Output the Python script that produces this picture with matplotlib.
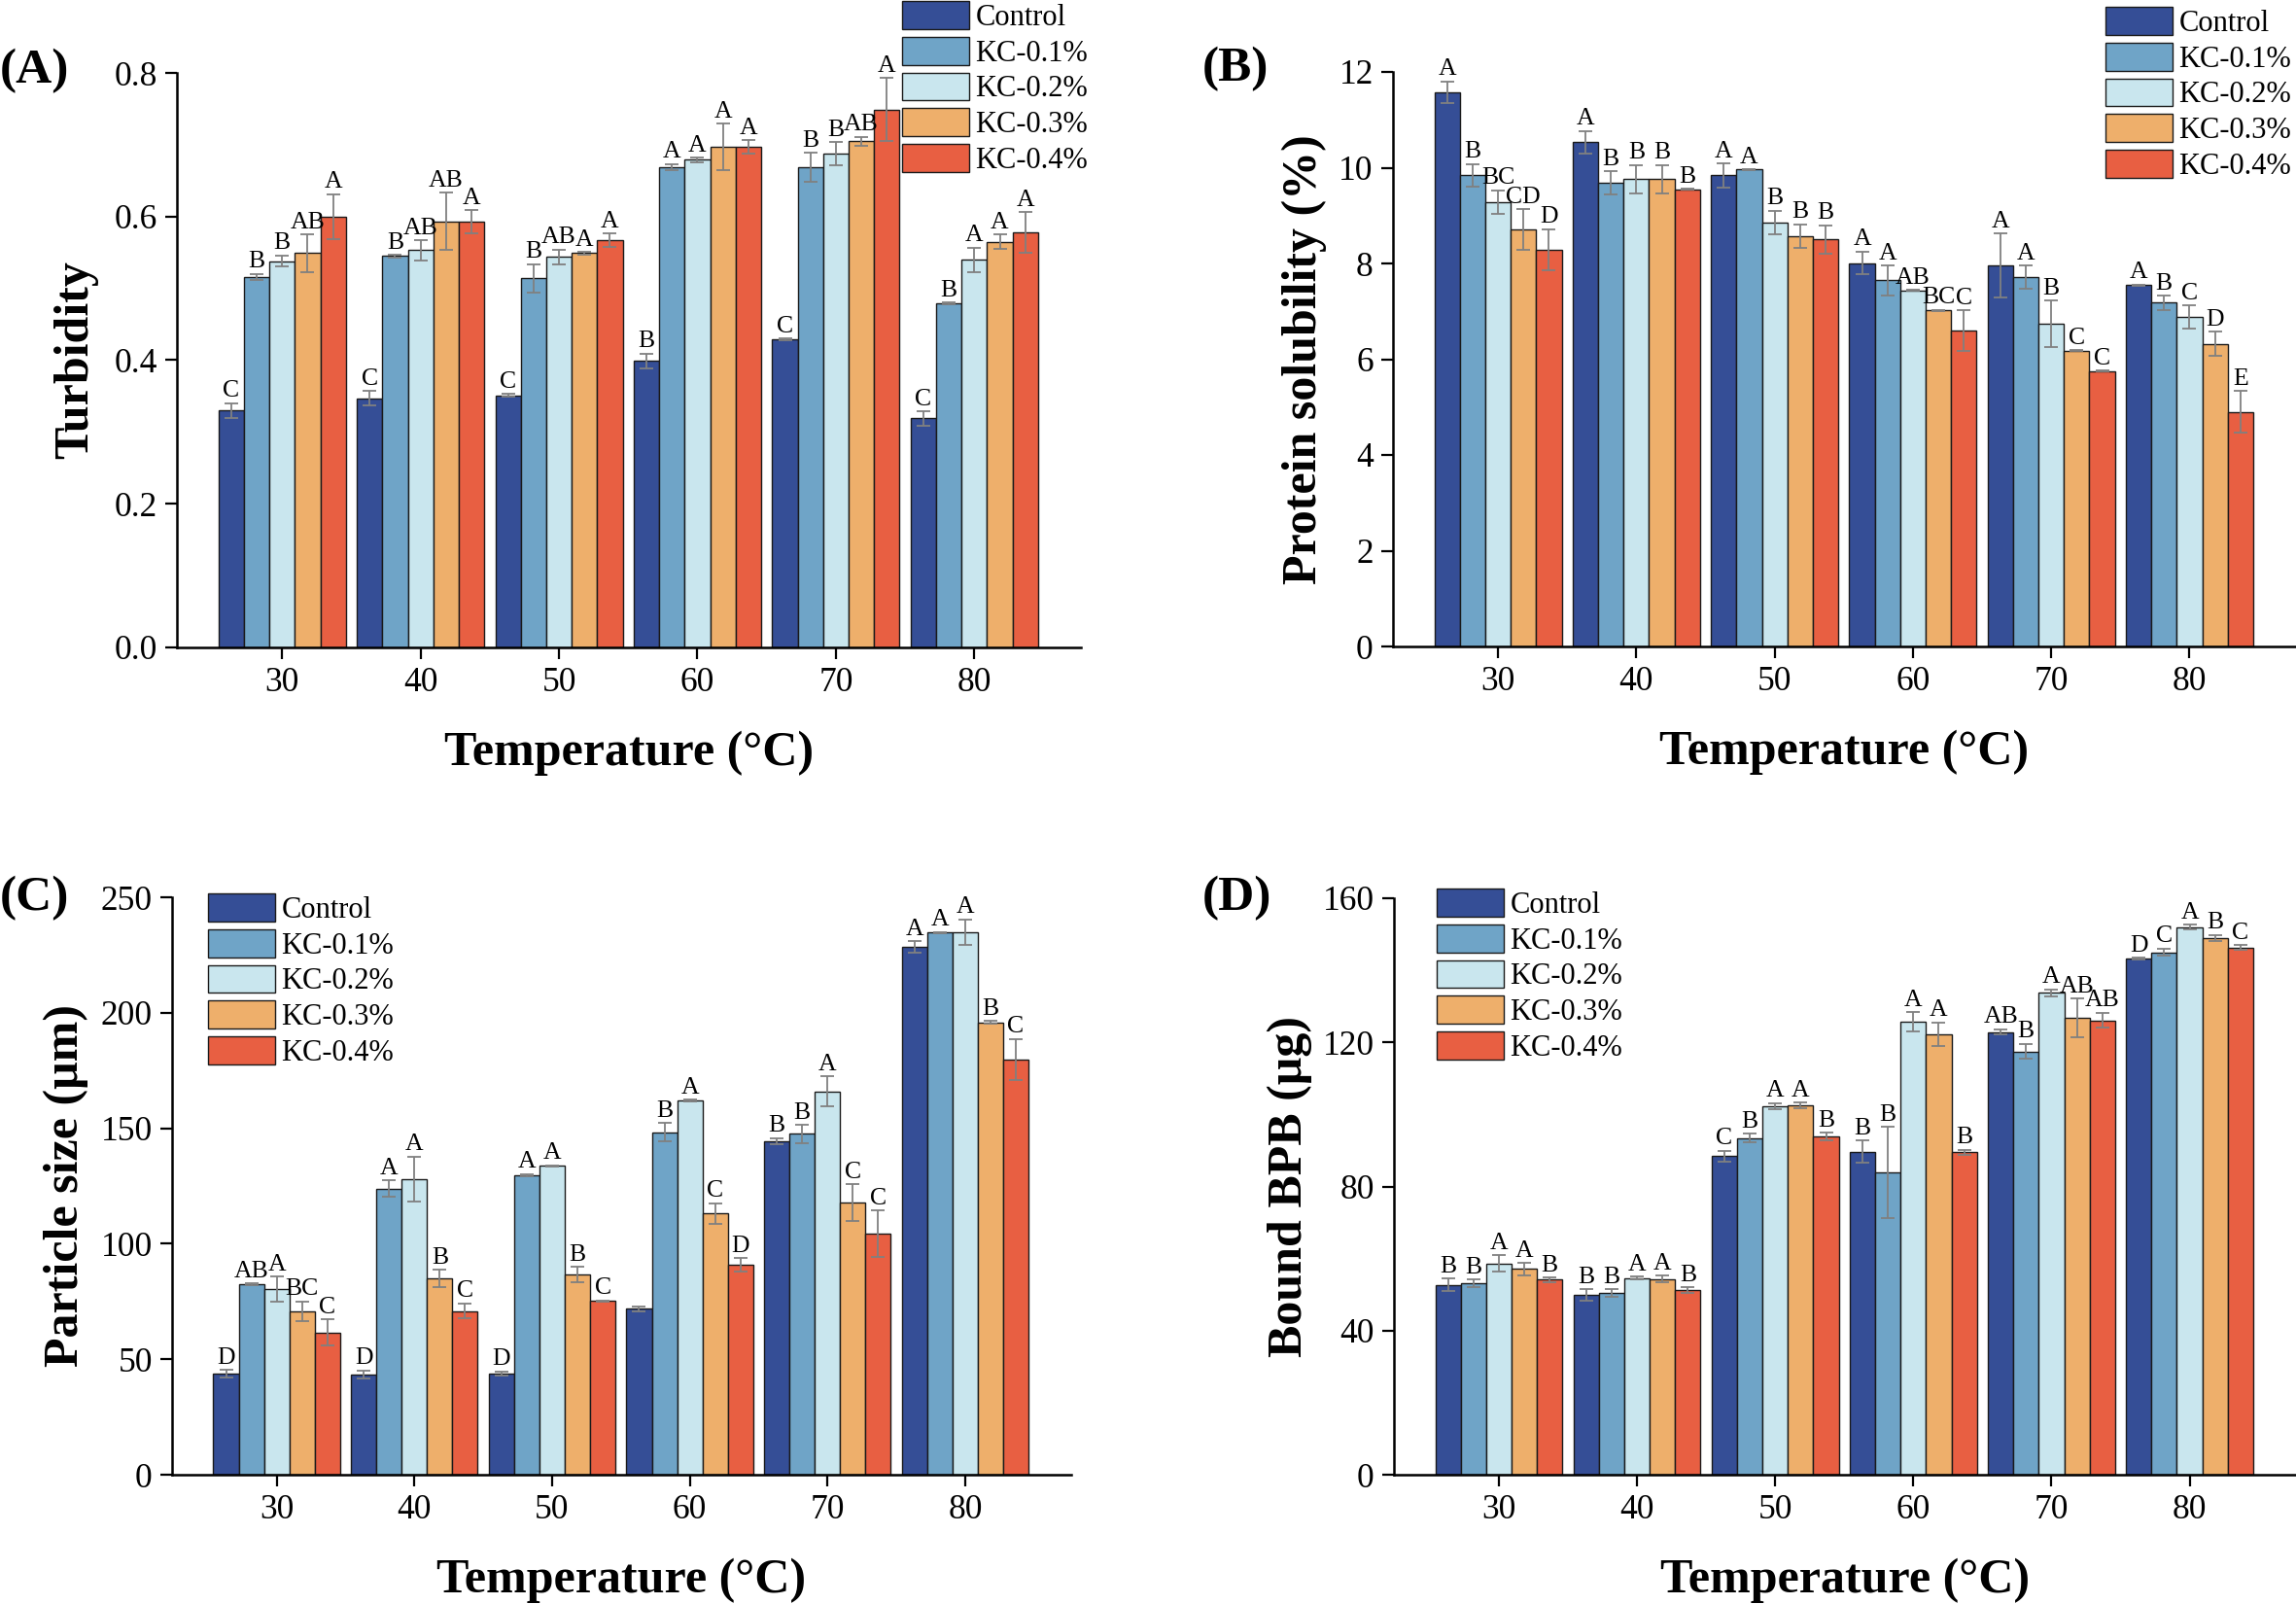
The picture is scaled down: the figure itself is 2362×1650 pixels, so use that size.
import matplotlib
matplotlib.use('Agg')
import matplotlib.pyplot as plt
import numpy as np

plt.rcParams['font.family'] = ['Liberation Serif', 'DejaVu Serif']

# ---------------- data ----------------
temps = ['30', '40', '50', '60', '70', '80']
series = ['Control', 'KC-0.1%', 'KC-0.2%', 'KC-0.3%', 'KC-0.4%']
colors = ['#354E96', '#6FA4C7', '#C9E6EE', '#EEAF6B', '#E85F42']

# (A) Turbidity: rows = temperature, cols = series
turb_mean = [[0.330, 0.516, 0.538, 0.549, 0.600],
             [0.347, 0.545, 0.553, 0.593, 0.593],
             [0.351, 0.514, 0.544, 0.549, 0.567],
             [0.399, 0.669, 0.679, 0.697, 0.697],
             [0.429, 0.669, 0.688, 0.705, 0.749],
             [0.319, 0.479, 0.540, 0.565, 0.578]]
turb_err = [[0.010, 0.004, 0.008, 0.026, 0.031],
            [0.010, 0.002, 0.014, 0.040, 0.016],
            [0.002, 0.020, 0.010, 0.002, 0.009],
            [0.010, 0.004, 0.003, 0.032, 0.009],
            [0.001, 0.020, 0.016, 0.006, 0.044],
            [0.010, 0.001, 0.017, 0.010, 0.028]]
turb_sig = [['C', 'B', 'B', 'AB', 'A'],
            ['C', 'B', 'AB', 'AB', 'A'],
            ['C', 'B', 'AB', 'A', 'A'],
            ['B', 'A', 'A', 'A', 'A'],
            ['C', 'B', 'B', 'AB', 'A'],
            ['C', 'B', 'A', 'A', 'A']]

# (B) Protein solubility (%)
sol_mean = [[11.58, 9.84, 9.28, 8.71, 8.29],
            [10.53, 9.69, 9.76, 9.76, 9.55],
            [9.84, 9.96, 8.85, 8.57, 8.50],
            [8.01, 7.65, 7.44, 7.02, 6.60],
            [7.95, 7.72, 6.74, 6.18, 5.75],
            [7.55, 7.18, 6.88, 6.32, 4.90]]
sol_err = [[0.22, 0.24, 0.25, 0.42, 0.43],
           [0.24, 0.24, 0.30, 0.30, 0.01],
           [0.25, 0.01, 0.25, 0.25, 0.30],
           [0.24, 0.31, 0.01, 0.01, 0.42],
           [0.67, 0.24, 0.49, 0.01, 0.01],
           [0.01, 0.15, 0.24, 0.25, 0.43]]
sol_sig = [['A', 'B', 'BC', 'CD', 'D'],
           ['A', 'B', 'B', 'B', 'B'],
           ['A', 'A', 'B', 'B', 'B'],
           ['A', 'A', 'AB', 'BC', 'C'],
           ['A', 'A', 'B', 'C', 'C'],
           ['A', 'B', 'C', 'D', 'E']]

# (C) Particle size (um)
size_mean = [[43.8, 82.5, 80.4, 70.7, 61.6],
             [43.3, 123.9, 128.0, 84.9, 70.9],
             [43.8, 129.7, 133.8, 86.6, 75.2],
             [71.8, 148.3, 162.1, 113.1, 90.9],
             [144.4, 147.6, 166.0, 117.9, 104.3],
             [228.4, 234.7, 234.9, 195.9, 179.7]]
size_err = [[1.7, 0.3, 5.3, 4.3, 5.7],
            [1.8, 3.6, 9.7, 3.7, 3.3],
            [1.0, 0.5, 0.2, 3.4, 0.3],
            [1.1, 4.0, 0.3, 4.4, 2.8],
            [1.4, 3.9, 6.6, 7.9, 10.0],
            [2.5, 0.3, 5.5, 0.5, 9.0]]
size_sig = [['D', 'AB', 'A', 'BC', 'C'],
            ['D', 'A', 'A', 'B', 'C'],
            ['D', 'A', 'A', 'B', 'C'],
            ['', 'B', 'A', 'C', 'D'],
            ['B', 'B', 'A', 'C', 'C'],
            ['A', 'A', 'A', 'B', 'C']]

# (D) Bound BPB (ug)
bpb_mean = [[52.7, 53.1, 58.6, 57.1, 54.1],
            [49.9, 50.5, 54.6, 54.3, 51.2],
            [88.4, 93.4, 102.3, 102.5, 93.9],
            [89.7, 83.9, 125.7, 122.2, 89.5],
            [122.9, 117.5, 133.7, 126.8, 126.1],
            [143.2, 145.0, 152.0, 149.0, 146.3]]
bpb_err = [[1.8, 1.0, 2.3, 1.7, 0.7],
           [1.5, 1.0, 0.4, 1.0, 0.8],
           [1.5, 1.2, 0.8, 0.8, 1.1],
           [3.0, 12.7, 2.6, 3.3, 0.7],
           [0.8, 2.1, 1.0, 5.4, 2.1],
           [0.3, 1.0, 0.6, 0.8, 0.7]]
bpb_sig = [['B', 'B', 'A', 'A', 'B'],
           ['B', 'B', 'A', 'A', 'B'],
           ['C', 'B', 'A', 'A', 'B'],
           ['B', 'B', 'A', 'A', 'B'],
           ['AB', 'B', 'A', 'AB', 'AB'],
           ['D', 'C', 'A', 'B', 'C']]

# ---------------- layout ----------------
W, H = 2362, 1650
fig = plt.figure(figsize=(W / 100, H / 100), dpi=100)


def rect(l, r, t, b):
    return [l / W, 1 - b / H, (r - l) / W, (b - t) / H]


panels = [
    dict(rect=rect(182, 1112, 75, 666), mean=turb_mean, err=turb_err, sig=turb_sig,
         ylim=(0, 0.8), yticks=np.arange(0, 0.81, 0.2), fmt='{:.1f}', ylabel='Turbidity',
         ylx=-104, leg=(928, 1), letter='(A)', lpos=(0, 73)),
    dict(rect=rect(1433, 2362, 74, 665), mean=sol_mean, err=sol_err, sig=sol_sig,
         ylim=(0, 12), yticks=np.arange(0, 12.1, 2), fmt='{:.0f}', ylabel='Protein solubility (%)',
         ylx=-91, leg=(2166, 7), letter='(B)', lpos=(1237, 71)),
    dict(rect=rect(177, 1102, 923, 1517), mean=size_mean, err=size_err, sig=size_sig,
         ylim=(0, 250), yticks=np.arange(0, 251, 50), fmt='{:.0f}', ylabel='Particle size (\u03bcm)',
         ylx=-109, leg=(214, 919), letter='(C)', lpos=(0, 924)),
    dict(rect=rect(1434, 2362, 924, 1517), mean=bpb_mean, err=bpb_err, sig=bpb_sig,
         ylim=(0, 160), yticks=np.arange(0, 161, 40), fmt='{:.0f}', ylabel='Bound BPB (\u03bcg)',
         ylx=-107, leg=(1478, 914), letter='(D)', lpos=(1237, 924)),
]

w = 0.184
xg = np.arange(len(temps))

for p in panels:
    ax = fig.add_axes(p['rect'])
    mean = np.array(p['mean'])
    err = np.array(p['err'])
    handles = []
    for j, s in enumerate(series):
        x = xg + (j - 2) * w
        b = ax.bar(x, mean[:, j], w, color=colors[j], edgecolor='#1a1a1a',
                   linewidth=1.0, label=s, zorder=2)
        handles.append(b)
        ax.errorbar(x, mean[:, j], yerr=err[:, j], fmt='none', ecolor='#808080',
                    elinewidth=1.3, capsize=5, capthick=1.3, zorder=3)
        for i in range(len(temps)):
            lab = p['sig'][i][j]
            if lab:
                ax.annotate(lab, (x[i], mean[i, j] + err[i, j]), xytext=(0, 1),
                            textcoords='offset points', ha='center', va='bottom',
                            fontsize=18.5, annotation_clip=False, zorder=4)
    ax.set_xlim(-0.76, 5.77)
    ax.set_ylim(*p['ylim'])
    ax.set_xticks(xg)
    ax.set_xticklabels(temps)
    ax.set_yticks(p['yticks'])
    ax.set_yticklabels([p['fmt'].format(v) for v in p['yticks']])
    for sp in ['top', 'right']:
        ax.spines[sp].set_visible(False)
    for sp in ['left', 'bottom']:
        ax.spines[sp].set_linewidth(1.8)
    ax.tick_params(axis='both', direction='out', length=8.5, width=1.6,
                   labelsize=25.5, pad=6)
    ax_w = p['rect'][2] * W
    ax_h = p['rect'][3] * H
    ax.set_ylabel(p['ylabel'], fontsize=36, fontweight='bold', va='center')
    ax.yaxis.set_label_coords(p['ylx'] / ax_w, 0.5)
    ax.set_xlabel('Temperature (\u00b0C)', fontsize=36, fontweight='bold', va='center')
    ax.xaxis.set_label_coords(0.5, -109 / ax_h)
    lx, ly = p['leg']
    ax.legend(handles=handles, loc='upper left', bbox_to_anchor=(lx / W, 1 - ly / H),
              bbox_transform=fig.transFigure, frameon=False, fontsize=22,
              handlelength=2.25, handleheight=1.08, handletextpad=0.22,
              labelspacing=0.16, borderpad=0, borderaxespad=0)
    fx, fy = p['lpos']
    fig.text(fx / W, 1 - fy / H, p['letter'], fontsize=37, fontweight='bold',
             ha='left', va='center')

fig.savefig('out.png', dpi=100)
